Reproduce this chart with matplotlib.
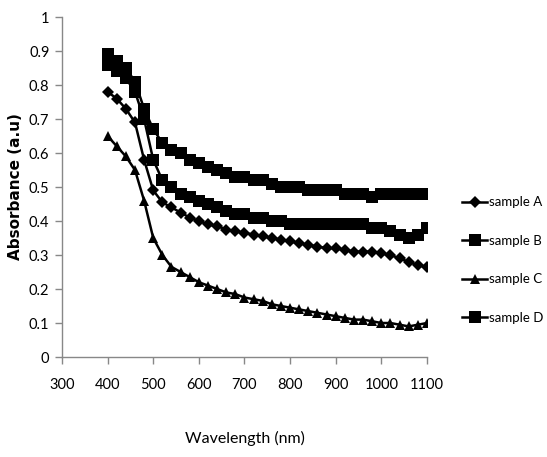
import numpy as np
import matplotlib.pyplot as plt

# wavelength grid (nm), one point every 20 nm
wavelength = list(range(400, 1101, 20))

sample_a = [0.78, 0.76, 0.73, 0.69, 0.58, 0.49, 0.455, 0.44, 0.425, 0.41, 0.40, 0.39,
            0.385, 0.375, 0.37, 0.365, 0.36, 0.355, 0.35, 0.345, 0.34, 0.335, 0.33, 0.325,
            0.32, 0.32, 0.315, 0.31, 0.31, 0.31, 0.305, 0.30, 0.29, 0.28, 0.27, 0.265]
sample_b = [0.86, 0.84, 0.82, 0.78, 0.70, 0.58, 0.52, 0.50, 0.48, 0.47, 0.46, 0.45,
            0.44, 0.43, 0.42, 0.42, 0.41, 0.41, 0.40, 0.40, 0.39, 0.39, 0.39, 0.39,
            0.39, 0.39, 0.39, 0.39, 0.39, 0.38, 0.38, 0.37, 0.36, 0.35, 0.36, 0.38]
sample_c = [0.65, 0.62, 0.59, 0.55, 0.46, 0.35, 0.30, 0.265, 0.25, 0.235, 0.22, 0.21,
            0.20, 0.19, 0.185, 0.175, 0.17, 0.165, 0.155, 0.15, 0.145, 0.14, 0.135, 0.13,
            0.125, 0.12, 0.115, 0.11, 0.11, 0.105, 0.10, 0.10, 0.095, 0.09, 0.095, 0.10]
sample_d = [0.89, 0.87, 0.85, 0.81, 0.73, 0.67, 0.63, 0.61, 0.60, 0.58, 0.57, 0.56,
            0.55, 0.54, 0.53, 0.53, 0.52, 0.52, 0.51, 0.50, 0.50, 0.50, 0.49, 0.49,
            0.49, 0.49, 0.48, 0.48, 0.48, 0.47, 0.48, 0.48, 0.48, 0.48, 0.48, 0.48]

names = ['sample A', 'sample B', 'sample C', 'sample D']
series = [sample_a, sample_b, sample_c, sample_d]
markers = ['D', 's', '^', 's']
msizes = [6, 8.5, 7, 8.5]

narrow = 'Lato'

fig = plt.figure(figsize=(5.47, 4.57), dpi=100)
ax = fig.add_axes([0.1133, 0.2188, 0.6673, 0.744])

handles = []
for name, ys, m, ms in zip(names, series, markers, msizes):
    h, = ax.plot(wavelength, ys, color='black', lw=1.8, marker=m, ms=ms,
                 markeredgewidth=0, label=name)
    handles.append(h)

ax.set_xlim(300, 1100)
ax.set_ylim(0, 1)
ax.set_xticks(range(300, 1101, 100))
ax.set_yticks(np.arange(0, 1.01, 0.1))
ax.set_yticklabels(['0', '0.1', '0.2', '0.3', '0.4', '0.5', '0.6', '0.7', '0.8', '0.9', '1'])

for s in ['top', 'right']:
    ax.spines[s].set_visible(False)
for s in ['left', 'bottom']:
    ax.spines[s].set_color('#888888')
    ax.spines[s].set_linewidth(1)
ax.tick_params(axis='both', color='#888888', length=5, width=1, direction='out',
               labelsize=10.5, pad=10)
ax.tick_params(axis='y', pad=4)
for lab in ax.get_xticklabels() + ax.get_yticklabels():
    lab.set_family(narrow)

ax.set_ylabel('Absorbance (a.u)', fontsize=11, fontweight='bold', labelpad=4)
ax.set_xlabel('Wavelength (nm)', fontsize=11.5, family=narrow, labelpad=28)

fig.legend(handles=handles, labels=names, loc='center left',
           bbox_to_anchor=(0.845, 0.431), frameon=False, borderpad=0,
           borderaxespad=0, prop={'family': narrow, 'size': 9.5},
           handlelength=1.9, handletextpad=0.1, labelspacing=2.0)

fig.savefig('out.png', dpi=100)
